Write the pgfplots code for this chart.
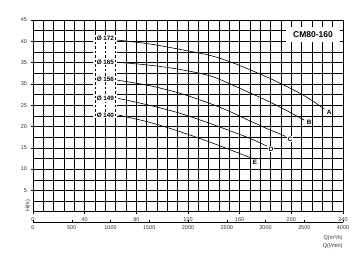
\documentclass[border=0pt]{standalone}
\usepackage{fontspec}
\setmainfont{Liberation Sans}
\usepackage{pgfplots}
\pgfplotsset{compat=1.18}
\begin{document}
\begin{tikzpicture}
\useasboundingbox (-33pt,-54.3pt) rectangle (330pt,211.7pt);
\begin{axis}[
  at={(0pt,0pt)}, anchor=south west,
  scale only axis, width=310pt, height=191.7pt,
  xmin=0, xmax=240, ymin=0, ymax=45,
  xtick={0,40,...,240}, minor xtick={8,16,...,232},
  ytick={5,10,...,45}, minor ytick={2.5,7.5,...,42.5},
  grid=both,
  major grid style={black, line width=0.5pt},
  minor grid style={black, line width=0.5pt},
  axis line style={black, line width=0.7pt},
  tick align=outside, major tick length=2.5pt, minor tick length=0pt,
  tick style={black, line width=0.5pt},
  xtick pos=bottom, ytick pos=left,
  tick label style={font=\fontsize{5.5}{6}\selectfont, text=black!80},
  /pgf/number format/assume math mode=true,
  clip=false,
]
% white label column
\fill[white] (axis cs:46.3,21.3) rectangle (axis cs:65.2,41.6);
\draw[black, line width=0.5pt, dash pattern=on 2.5pt off 2pt] (axis cs:48,21.3) -- (axis cs:48,41.6);
\draw[black, line width=0.5pt, dash pattern=on 2.5pt off 2pt] (axis cs:56,21.3) -- (axis cs:56,41.6);
\draw[black, line width=0.5pt, dash pattern=on 2.5pt off 2pt] (axis cs:64,21.3) -- (axis cs:64,41.6);

\addplot[black, line width=0.6pt, smooth] coordinates {(65,40.3) (90,39.4) (113.8,38.1) (137,36.7) (152.5,35.2) (165,33.7) (183.5,31.3) (191,30.2) (206.7,27.8) (217,25.9) (225.5,24.1)};
\addplot[black, line width=0.6pt, smooth] coordinates {(65,35.1) (90,34.4) (113.8,33.4) (137,31.9) (152.5,30.0) (165,28.3) (176,26.8) (191,24.6) (210,21.5)};
\addplot[black, line width=0.6pt, smooth] coordinates {(65,30.9) (90,29.6) (113.8,27.8) (137,25.4) (152.5,23.5) (168,21.3) (182,19.4) (195.5,17.7)};
\addplot[black, line width=0.6pt, smooth] coordinates {(66,26.6) (90,25.0) (113.8,23.1) (140,20.4) (168,17.2) (181,15.4)};
\addplot[black, line width=0.6pt, smooth] coordinates {(66,22.7) (90,21.0) (113.8,18.8) (140,16.0) (169,12.6)};

\node[fill=white, inner sep=0.8pt, font=\bfseries\fontsize{6.3}{7}\selectfont] at (axis cs:56,40.7) {Ø 172};
\node[fill=white, inner sep=0.8pt, font=\bfseries\fontsize{6.3}{7}\selectfont] at (axis cs:56,35.1) {Ø 165};
\node[fill=white, inner sep=0.8pt, font=\bfseries\fontsize{6.3}{7}\selectfont] at (axis cs:56,31.1) {Ø 156};
\node[fill=white, inner sep=0.8pt, font=\bfseries\fontsize{6.3}{7}\selectfont] at (axis cs:56,26.6) {Ø 149};
\node[fill=white, inner sep=0.8pt, font=\bfseries\fontsize{6.3}{7}\selectfont] at (axis cs:56,22.7) {Ø 140};

\node[fill=white, inner sep=0.8pt, font=\bfseries\fontsize{6.3}{7}\selectfont] at (axis cs:229.3,23.4) {A};
\node[fill=white, inner sep=0.8pt, font=\bfseries\fontsize{6.3}{7}\selectfont] at (axis cs:213.7,20.9) {B};
\node[fill=white, inner sep=0.8pt, font=\bfseries\fontsize{6.3}{7}\selectfont] at (axis cs:199,17.1) {C};
\node[fill=white, inner sep=0.8pt, font=\bfseries\fontsize{6.3}{7}\selectfont] at (axis cs:184.3,14.7) {D};
\node[fill=white, inner sep=0.8pt, font=\bfseries\fontsize{6.3}{7}\selectfont] at (axis cs:171.9,11.7) {E};

\fill[white] (axis cs:196,39.9) rectangle (axis cs:237.5,43.4);
\node[font=\bfseries\fontsize{8.5}{9}\selectfont] at (axis cs:216.8,41.65) {CM80-160};

\node[rotate=90, font=\fontsize{5.5}{6}\selectfont, text=black!80] at ([xshift=-5pt]axis cs:0,1.4) {H(m)};
\node[anchor=east, font=\fontsize{5.5}{6}\selectfont, text=black!80] at ([xshift=3pt, yshift=-26.3pt]rel axis cs:1,0) {Q(m³/h)};
\node[anchor=east, font=\fontsize{5.5}{6}\selectfont, text=black!80] at ([xshift=3pt, yshift=-34pt]rel axis cs:1,0) {Q(l/min)};
\end{axis}
\begin{axis}[
  at={(0pt,-10.6pt)}, anchor=south west,
  scale only axis, width=310pt, height=1pt,
  xmin=0, xmax=4000, ymin=0, ymax=1,
  hide y axis, axis x line*=bottom,
  x axis line style={-, black, line width=0.7pt},
  xtick={0,500,...,4000}, scaled x ticks=false,
  tick align=inside, major tick length=2pt,
  tick style={black, line width=0.5pt},
  tick label style={font=\fontsize{5.5}{6}\selectfont, text=black!80},
  /pgf/number format/assume math mode=true,
  /pgf/number format/1000 sep={},
]
\end{axis}
\end{tikzpicture}
\end{document}
